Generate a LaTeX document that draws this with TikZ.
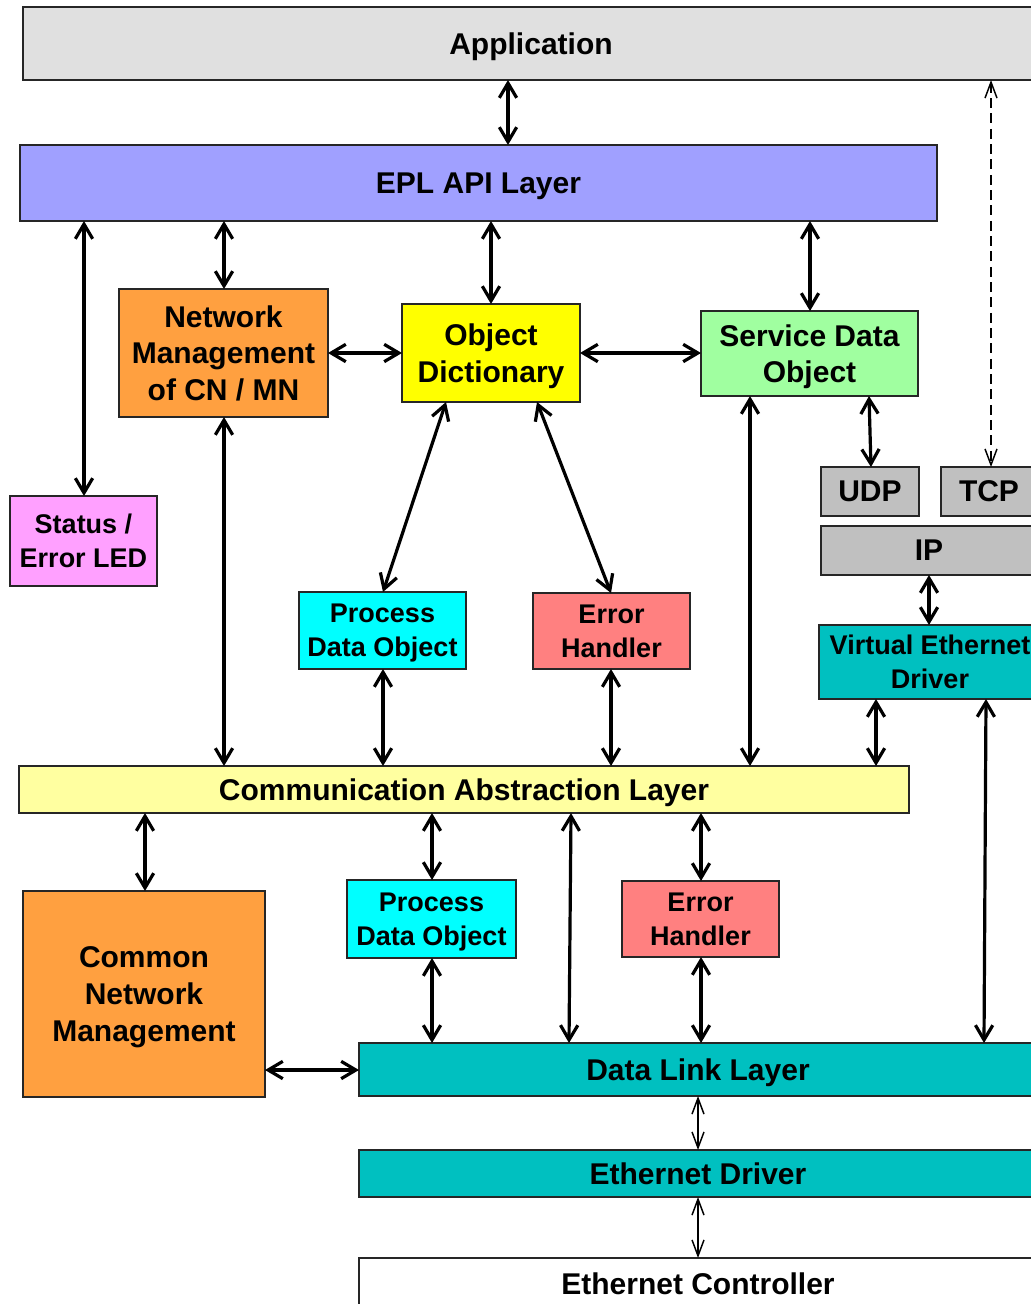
\documentclass[tikz,border=0pt]{standalone}
\usepackage{fontspec}
\setmainfont{Liberation Sans}
\usetikzlibrary{arrows.meta}

\definecolor{appgray}{HTML}{E0E0E0}
\definecolor{apiblue}{HTML}{A0A0FF}
\definecolor{nmorange}{HTML}{FFA040}
\definecolor{odyellow}{HTML}{FFFF00}
\definecolor{sdogreen}{HTML}{A0FFA0}
\definecolor{ledpink}{HTML}{FFA0FF}
\definecolor{ipgray}{HTML}{C0C0C0}
\definecolor{drvteal}{HTML}{00C0C0}
\definecolor{pdocyan}{HTML}{00FFFF}
\definecolor{errred}{HTML}{FF8080}
\definecolor{calyellow}{HTML}{FFFFA0}

% block from corner (x1,y1) to corner (x2,y2), in picture units
\newcommand\blockbox[7]{%
  \node[blk, #6, minimum width={(#4-#2)*0.75pt}, minimum height={(#5-#3)*0.75pt}]
    (#1) at ({(#2+#4)/2},{(#3+#5)/2}) {#7};}

\begin{document}
\begin{tikzpicture}[x=0.75pt,y=-0.75pt,
  blk/.style={draw=black!85, line width=1pt, inner sep=0pt, outer sep=0pt,
    align=center, text depth=-2pt, font=\fontsize{22.5pt}{27.5pt}\selectfont\bfseries},
  sm/.style={font=\fontsize{20.25pt}{25.5pt}\selectfont\bfseries},
  bihead/.tip={Straight Barb[length=11pt,width=13pt,line width=2.4pt]},
  thinhead/.tip={Straight Barb[length=12pt,width=9pt,line width=1.1pt]},
  conn/.style={draw=black, line width=2.4pt, bihead-bihead},
  thinconn/.style={draw=black, line width=1.1pt, thinhead-thinhead},
]
\useasboundingbox (0,0) rectangle (1031,1304);
\clip (0,0) rectangle (1031,1304);

% ---- blocks ----
\blockbox{app}{23}{7}{1039}{80}{fill=appgray}{Application}
\blockbox{api}{20}{145}{937}{221}{fill=apiblue}{EPL API Layer}
\blockbox{nm}{119}{289}{328}{417}{fill=nmorange}{Network\\Management\\of CN / MN}
\blockbox{od}{402}{304}{580}{402}{fill=odyellow}{Object\\Dictionary}
\blockbox{sdo}{701}{311}{918}{396}{fill=sdogreen}{Service Data\\Object}
\blockbox{led}{10}{496}{157}{586}{sm, fill=ledpink}{Status /\\Error LED}
\blockbox{udp}{821}{467}{919}{516}{fill=ipgray}{UDP}
\blockbox{tcp}{941}{467}{1037}{516}{fill=ipgray}{TCP}
\blockbox{ip}{821}{526}{1037}{575}{fill=ipgray}{IP}
\blockbox{ved}{819}{625}{1041}{699}{sm, fill=drvteal}{Virtual Ethernet\\Driver}
\blockbox{pdoa}{299}{592}{466}{669}{sm, fill=pdocyan}{Process\\Data Object}
\blockbox{eha}{533}{593}{690}{669}{sm, fill=errred}{Error\\Handler}
\blockbox{cal}{19}{766}{909}{813}{fill=calyellow}{Communication Abstraction Layer}
\blockbox{cnm}{23}{891}{265}{1097}{fill=nmorange}{Common\\Network\\Management}
\blockbox{pdob}{347}{880}{516}{958}{sm, fill=pdocyan}{Process\\Data Object}
\blockbox{ehb}{622}{881}{779}{957}{sm, fill=errred}{Error\\Handler}
\blockbox{dll}{359}{1043}{1037}{1096}{fill=drvteal}{Data Link Layer}
\blockbox{eth}{359}{1150}{1037}{1197}{fill=drvteal}{Ethernet Driver}
\blockbox{ctl}{359}{1258}{1037}{1310}{fill=white}{Ethernet Controller}

% ---- connectors ----
\path[conn] (508,0 |- app.south) -- (508,0 |- api.north);
\path[thinconn, dash pattern=on 7.5pt off 4pt] (991,0 |- app.south) -- (991,0 |- tcp.north);
\path[conn] (84,0 |- api.south) -- (84,0 |- led.north);
\path[conn] (224,0 |- api.south) -- (224,0 |- nm.north);
\path[conn] (491,0 |- api.south) -- (491,0 |- od.north);
\path[conn] (810,0 |- api.south) -- (810,0 |- sdo.north);
\path[conn] (nm.east |- 0,353) -- (od.west |- 0,353);
\path[conn] (od.east |- 0,353) -- (sdo.west |- 0,353);
\path[conn] (224,0 |- nm.south) -- (224,0 |- cal.north);
\path[conn] (446,0 |- od.south) -- (383,0 |- pdoa.north);
\path[conn] (537,0 |- od.south) -- (611,0 |- eha.north);
\path[conn] (750,0 |- sdo.south) -- (750,0 |- cal.north);
\path[conn] (869,0 |- sdo.south) -- (871,0 |- udp.north);
\path[conn] (929,0 |- ip.south) -- (929,0 |- ved.north);
\path[conn] (383,0 |- pdoa.south) -- (383,0 |- cal.north);
\path[conn] (611,0 |- eha.south) -- (611,0 |- cal.north);
\path[conn] (876,0 |- ved.south) -- (876,0 |- cal.north);
\path[conn] (986,0 |- ved.south) -- (984,0 |- dll.north);
\path[conn] (145,0 |- cal.south) -- (145,0 |- cnm.north);
\path[conn] (432,0 |- cal.south) -- (432,0 |- pdob.north);
\path[conn] (571,0 |- cal.south) -- (569,0 |- dll.north);
\path[conn] (701,0 |- cal.south) -- (701,0 |- ehb.north);
\path[conn] (432,0 |- pdob.south) -- (432,0 |- dll.north);
\path[conn] (701,0 |- ehb.south) -- (701,0 |- dll.north);
\path[conn] (cnm.east |- 0,1070) -- (dll.west |- 0,1070);
\path[thinconn] (698,0 |- dll.south) -- (698,0 |- eth.north);
\path[thinconn] (698,0 |- eth.south) -- (698,0 |- ctl.north);
\end{tikzpicture}
\end{document}
